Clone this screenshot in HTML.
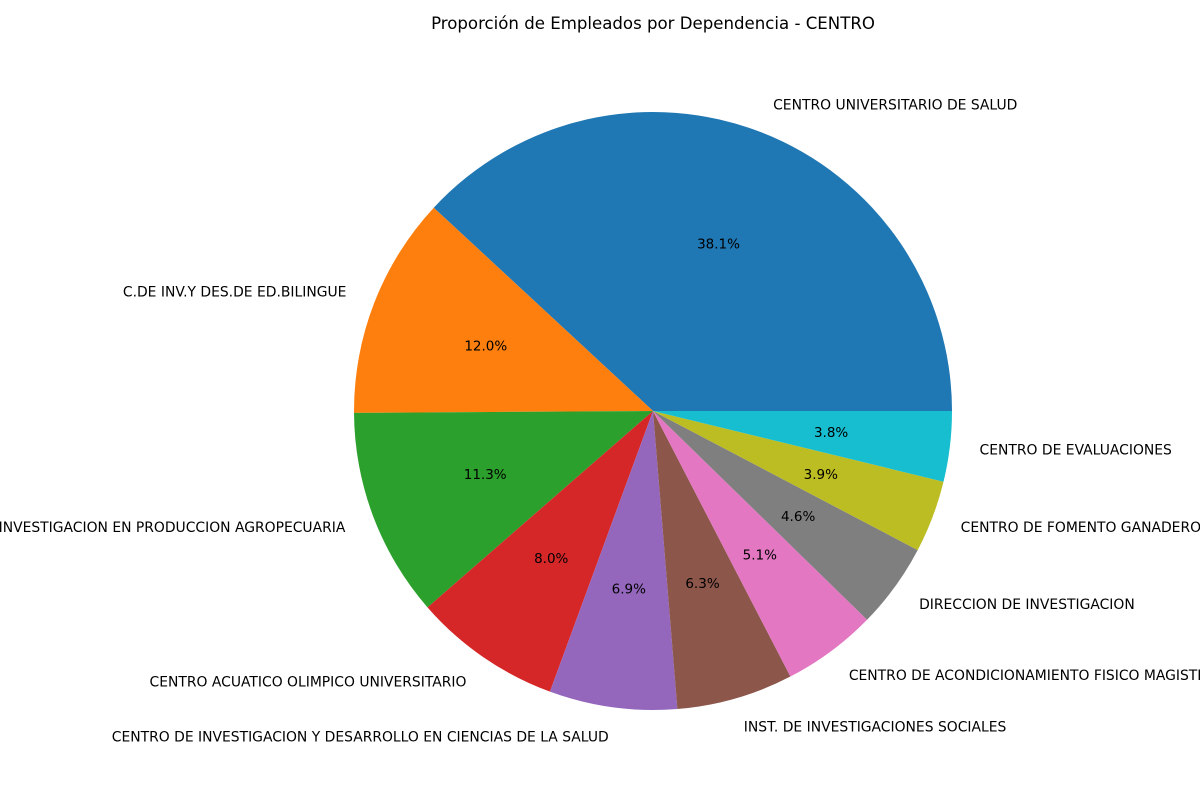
<!DOCTYPE html>
<html><head><meta charset="utf-8"><style>
html,body{margin:0;padding:0;background:#fff;overflow:hidden;}
svg{display:block;font-family:"DejaVu Sans","Liberation Sans",sans-serif;}
</style></head>
<body>
<svg id="chart" width="1200" height="800" viewBox="0 0 1200 800">
<text x="653" y="29" font-size="16.6" text-anchor="middle">Proporción de Empleados por Dependencia - CENTRO</text>
<g id="slices"></g>
<g id="labels"></g>
</svg>
<script>
const categories = ["CENTRO UNIVERSITARIO DE SALUD","C.DE INV.Y DES.DE ED.BILINGUE","CENTRO DE INVESTIGACION EN PRODUCCION AGROPECUARIA","CENTRO ACUATICO OLIMPICO UNIVERSITARIO","CENTRO DE INVESTIGACION Y DESARROLLO EN CIENCIAS DE LA SALUD","INST. DE INVESTIGACIONES SOCIALES","CENTRO DE ACONDICIONAMIENTO FISICO MAGISTERIAL","DIRECCION DE INVESTIGACION","CENTRO DE FOMENTO GANADERO","CENTRO DE EVALUACIONES"];
const values = [38.1,12.0,11.3,8.0,6.9,6.3,5.1,4.6,3.9,3.8];
const colors = ["#1f77b4","#ff7f0e","#2ca02c","#d62728","#9467bd","#8c564b","#e377c2","#7f7f7f","#bcbd22","#17becf"];
const cx=653, cy=411, R=299;
const NS="http://www.w3.org/2000/svg";
const total=values.reduce((a,b)=>a+b,0);
const gS=document.getElementById('slices'), gL=document.getElementById('labels');
let a0=0;
function pt(a,r){return [cx+r*Math.cos(a), cy-r*Math.sin(a)];}
values.forEach((v,i)=>{
  const a1=a0+v/total*2*Math.PI;
  const [x0,y0]=pt(a0,R),[x1,y1]=pt(a1,R);
  const large=(a1-a0)>Math.PI?1:0;
  const p=document.createElementNS(NS,'path');
  p.setAttribute('d',`M${cx},${cy} L${x0},${y0} A${R},${R} 0 ${large} 0 ${x1},${y1} Z`);
  p.setAttribute('fill',colors[i]);
  
  
  gS.appendChild(p);
  const am=(a0+a1)/2;
  const [lx,ly]=pt(am,R*1.1);
  const t=document.createElementNS(NS,'text');
  t.setAttribute('x',lx);t.setAttribute('y',ly+4.5);
  t.setAttribute('font-size','13.9');
  t.setAttribute('text-anchor',Math.cos(am)>=0?'start':'end');
  t.textContent=categories[i];
  
  
  gL.appendChild(t);
  const [px,py]=pt(am,R*0.6);
  const q=document.createElementNS(NS,'text');
  q.setAttribute('x',px);q.setAttribute('y',py+4.5);
  q.setAttribute('font-size','13.5');
  q.setAttribute('text-anchor','middle');
  q.textContent=(v/total*100).toFixed(1)+'%';
  
  
  gL.appendChild(q);
  a0=a1;
});
</script>
</body></html>
